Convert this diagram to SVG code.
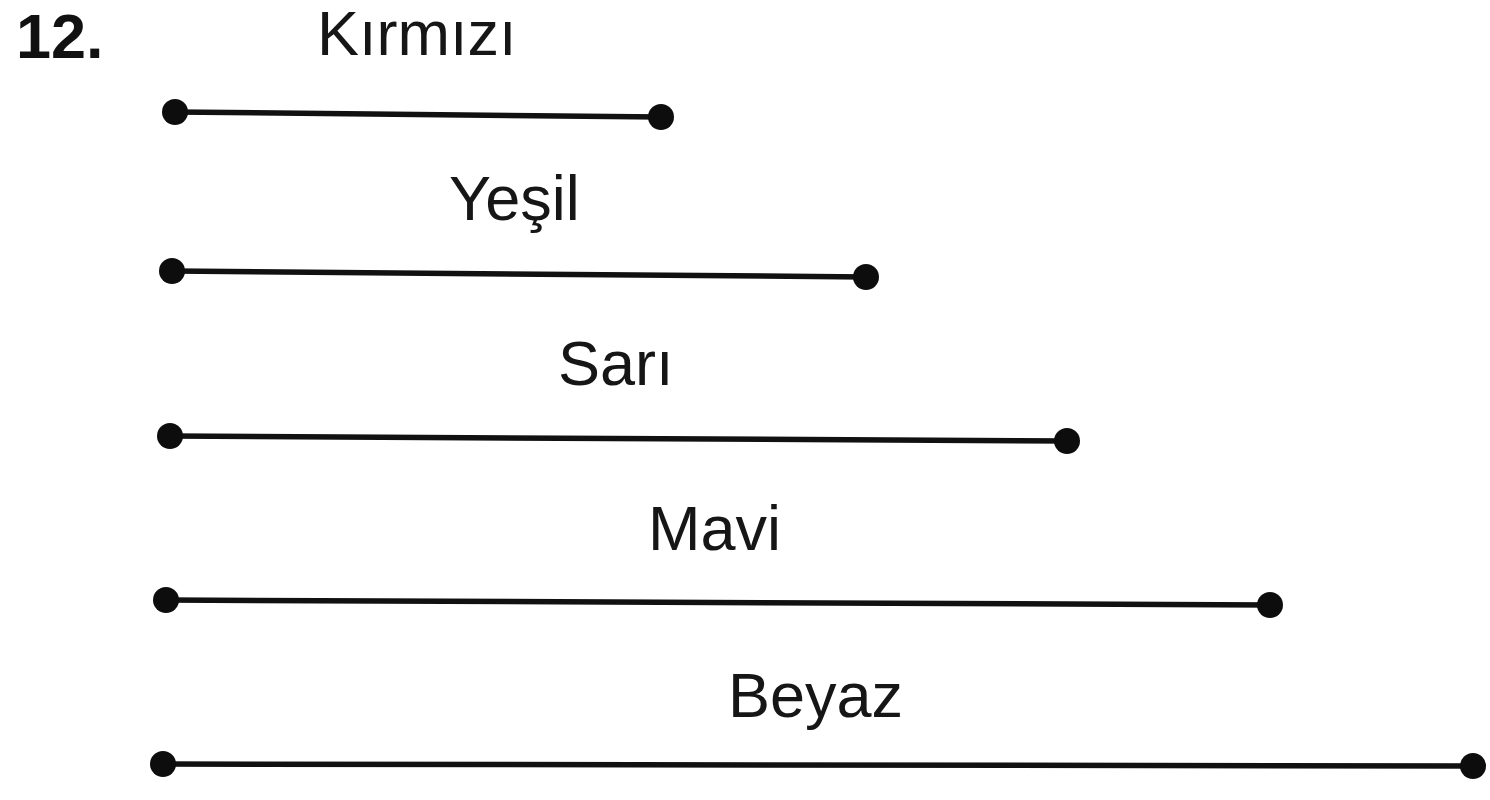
<svg xmlns="http://www.w3.org/2000/svg" width="1490" height="800" viewBox="0 0 1490 800">
  <style>
    .label { font-family: "Liberation Sans", Arial, sans-serif; font-size: 63px; fill: #161616; }
    .num { font-family: "Liberation Sans", Arial, sans-serif; font-size: 63px; font-weight: bold; fill: #111; }
    .seg { stroke: #111; stroke-width: 5.5; stroke-linecap: round; fill: none; }
    .end { fill: #0d0d0d; }
  </style>
  <rect width="1490" height="800" fill="#ffffff"/>

  <text class="num" x="16" y="58">12.</text>

  <!-- colour labels -->
  <g id="label-kirmizi"><text class="label" x="317" y="55">Kırmızı</text></g>
  <g id="label-yesil"><text class="label" x="449" y="220">Yeşil</text></g>
  <g id="label-sari"><text class="label" x="558" y="385">Sarı</text></g>
  <g id="label-mavi"><text class="label" x="648" y="550">Mavi</text></g>
  <g id="label-beyaz"><text class="label" x="728" y="717">Beyaz</text></g>

  <!-- segments of increasing length -->
  <g id="connectors">
    <line class="seg" x1="175" y1="112" x2="661" y2="117"/>
    <line class="seg" x1="172" y1="271" x2="866" y2="277"/>
    <line class="seg" x1="170" y1="436" x2="1067" y2="441"/>
    <line class="seg" x1="166" y1="600" x2="1270" y2="605"/>
    <line class="seg" x1="163" y1="764" x2="1473" y2="766"/>
  </g>

  <!-- endpoints -->
  <g id="seg-kirmizi"><circle class="end" cx="175" cy="112" r="13"/><circle class="end" cx="661" cy="117" r="13"/></g>
  <g id="seg-yesil"><circle class="end" cx="172" cy="271" r="13"/><circle class="end" cx="866" cy="277" r="13"/></g>
  <g id="seg-sari"><circle class="end" cx="170" cy="436" r="13"/><circle class="end" cx="1067" cy="441" r="13"/></g>
  <g id="seg-mavi"><circle class="end" cx="166" cy="600" r="13"/><circle class="end" cx="1270" cy="605" r="13"/></g>
  <g id="seg-beyaz"><circle class="end" cx="163" cy="764" r="13"/><circle class="end" cx="1473" cy="766" r="13"/></g>
</svg>
